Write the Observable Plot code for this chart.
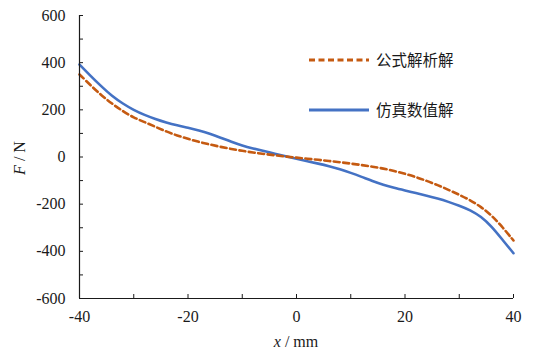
<!DOCTYPE html>
<html>
<head>
<meta charset="utf-8">
<script src="https://cdn.jsdelivr.net/npm/d3@7"></script>
<script src="https://cdn.jsdelivr.net/npm/@observablehq/plot@0.6"></script>
<style>
  html, body { margin: 0; padding: 0; background: #fff; }
  #chart svg { display: block; }
</style>
</head>
<body>
<div id="chart"></div>
<script>
const xs = [-40,-38,-36,-34,-32,-30,-28,-26,-24,-22,-20,-18,-16,-14,-12,-10,-8,-6,-4,-2,0,2,4,6,8,10,12,14,16,18,20,22,24,26,28,30,32,34,36,38,40];
const analytic = [350,305,262,226,194,167,148,128,108,91,77,64,53,43,34,26,19,13,7,2,-3,-7,-12,-17,-22,-28,-34,-41,-49,-59,-71,-85,-101,-119,-139,-160,-183,-211,-248,-298,-354];
const simulated = [392,345,300,258,226,199,178,161,146,134,124,113,99,82,64,48,36,25,14,3,-8,-18,-28,-39,-52,-67,-84,-102,-118,-131,-142,-153,-164,-176,-190,-206,-225,-252,-295,-352,-408];
const seriesNames = ["公式解析解", "仿真数值解"];
const xTicks = d3.range(-40, 41, 10);
const xLabels = d3.range(-40, 41, 20);
const yTicks = d3.range(-600, 601, 100);
const yLabels = d3.range(-600, 601, 200);

const rows = xs.flatMap((x, i) => [
  {x, F: analytic[i], s: seriesNames[0]},
  {x, F: simulated[i], s: seriesNames[1]}
]);

const font = "'Liberation Serif', 'Times New Roman', serif";
const W = 556, H = 352;
const chart = Plot.plot({
  width: W, height: H,
  marginLeft: 79, marginRight: 43, marginTop: 15, marginBottom: 54,
  style: {fontFamily: font, fontSize: "16px", color: "#1a1a1a", background: "#fff"},
  x: {domain: [-40, 40]},
  y: {domain: [-600, 600]},
  marks: [
    Plot.line(rows.filter(d => d.s === seriesNames[1]), {x: "x", y: "F", stroke: "#4472C4", strokeWidth: 2.6, curve: "basis"}),
    Plot.line(rows.filter(d => d.s === seriesNames[0]), {x: "x", y: "F", stroke: "#C55A11", strokeWidth: 2.6, strokeDasharray: "6,3.5", curve: "basis"}),
    Plot.axisY({ticks: yTicks, tickSize: -4, tickFormat: () => "", stroke: "#1a1a1a", label: null}),
    Plot.axisY({ticks: yLabels, tickSize: 0, tickPadding: 14, tickFormat: d => String(d), label: null, fontSize: 16}),
    Plot.axisX({ticks: xTicks, tickSize: -4, tickFormat: () => "", stroke: "#1a1a1a", label: null}),
    Plot.axisX({ticks: xLabels, tickSize: 0, tickPadding: 12, tickFormat: d => String(d), label: null, fontSize: 16}),
    Plot.ruleX([-40], {stroke: "#1a1a1a", strokeWidth: 1.2}),
    Plot.ruleY([-600], {stroke: "#1a1a1a", strokeWidth: 1.2})
  ]
});

const svg = d3.select(chart);
// axis titles
const xt = svg.append("text").attr("x", 296).attr("y", 347).attr("text-anchor", "middle")
  .style("font-family", font).style("font-size", "16px").attr("fill", "#1a1a1a");
xt.append("tspan").attr("font-style", "italic").text("x");
xt.append("tspan").text(" / mm");
const yt = svg.append("text").attr("transform", "translate(25,158) rotate(-90)").attr("text-anchor", "middle")
  .style("font-family", font).style("font-size", "16px").attr("fill", "#1a1a1a");
yt.append("tspan").attr("font-style", "italic").text("F");
yt.append("tspan").text(" / N");

// legend
const leg = [
  {name: seriesNames[0], color: "#C55A11", dash: "6,3.5", y: 60},
  {name: seriesNames[1], color: "#4472C4", dash: null, y: 110}
];
leg.forEach(l => {
  const ln = svg.append("line").attr("x1", 309).attr("x2", 369).attr("y1", l.y).attr("y2", l.y)
    .attr("stroke", l.color).attr("stroke-width", 2.8);
  if (l.dash) ln.attr("stroke-dasharray", l.dash);
  svg.append("text").attr("x", 376).attr("y", l.y).attr("dy", "0.36em").attr("text-anchor", "start")
    .style("font-family", "'Noto Sans CJK SC', sans-serif").style("font-size", "15.5px")
    .attr("fill", "#1a1a1a").text(l.name);
});

document.getElementById("chart").appendChild(chart);
</script>
</body>
</html>
